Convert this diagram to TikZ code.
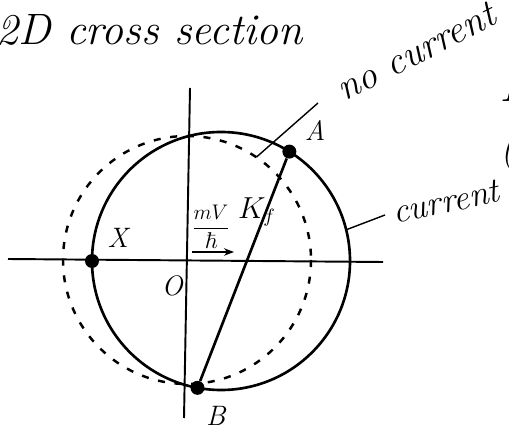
\documentclass[tikz,border=0pt]{standalone}
\usepackage{amsmath,amssymb}
\usetikzlibrary{positioning,arrows.meta}

\begin{document}
\begin{tikzpicture}[
    x=0.02cm, y=-0.02cm,
    font=\itshape,
    axis/.style={line width=1.1pt},
    fermi/.style={line width=1.5pt},
    shifted/.style={line width=1.4pt, dash pattern=on 4pt off 5.5pt},
    dot/.style={circle, fill=black, inner sep=0pt, minimum size=2.8mm},
    lbl/.style={font=\fontsize{16}{19}\selectfont\itshape, inner sep=0pt},
    frac/.style={font=\fontsize{13}{15}\selectfont, inner sep=0pt},
    title/.style={font=\fontsize{25}{29}\selectfont\itshape, inner sep=0pt},
    note/.style={font=\fontsize{22}{26}\selectfont\itshape, inner sep=0pt},
    lead/.style={line width=0.8pt},
    arr/.style={-{Stealth[length=2mm]}, line width=0.8pt}
  ]
  \useasboundingbox (0,0) rectangle (509,431);

  % ---- axes ----
  \coordinate (xl) at (8,259);
  \coordinate (xr) at (383,262);
  \coordinate (yt) at (190,88);
  \coordinate (yb) at (184,418);
  \coordinate (O) at (187,260);
  \draw[axis] (xl) -- (xr);
  \draw[axis] (yt) -- (yb);

  % ---- Fermi circles: without and with current ----
  \coordinate (C) at (221,261);
  \draw[shifted] (O) circle[radius=124];
  \draw[fermi] (C) circle[radius=129];

  % ---- points on the shifted circle ----
  \path (C) ++(-58:129) node[dot] (A) {};
  \path (C) ++(100.5:129) node[dot] (B) {};
  \path (C) ++(180:129) node[dot] (X) {};
  \draw[fermi] (A) -- (B)
    node[pos=0.24, xshift=-1.8mm, lbl] (kf) {$K_f$};

  \node[lbl, above right=1.2mm and 2mm of A] (Alab) {A};
  \node[lbl, below right=2.6mm and 0.6mm of B] (Blab) {B};
  \node[lbl, above right=1.5mm and 2mm of X] (Xlab) {X};
  \node[lbl, below left=3mm and 0.8mm of O] (Olab) {O};

  % ---- shift of the circle ----
  \node[frac] (shift) at (211,227) {$\dfrac{mV}{\hbar}$};
  \coordinate (s0) at (192,252);
  \coordinate (s1) at (234,252);
  \draw[arr] (s0) -- (s1);

  % ---- labels and leaders ----
  \node[title, anchor=west] (head) at (-4,30) {2D cross section};

  \node[note, rotate=27] (nocur) at (416,52) {no current};
  \coordinate (nc) at (318,103);
  \path (O) ++(-56:124) coordinate (dA);
  \draw[lead] (nc) -- (dA);

  \node[note, font=\fontsize{20}{24}\selectfont\itshape, rotate=12] (cur) at (446,202) {current};
  \coordinate (cc) at (385,215);
  \path (C) ++(-14:129) coordinate (sA);
  \draw[lead] (cc) -- (sA);

  % ---- text cut off at the right edge ----
  \node[note, font=\fontsize{30}{34}\selectfont\itshape, anchor=west] (edgeF) at (499,84) {F};
  \node[note, font=\fontsize{22}{26}\selectfont\itshape, anchor=west] (edgeP) at (500,150) {(};

\end{tikzpicture}
\end{document}
